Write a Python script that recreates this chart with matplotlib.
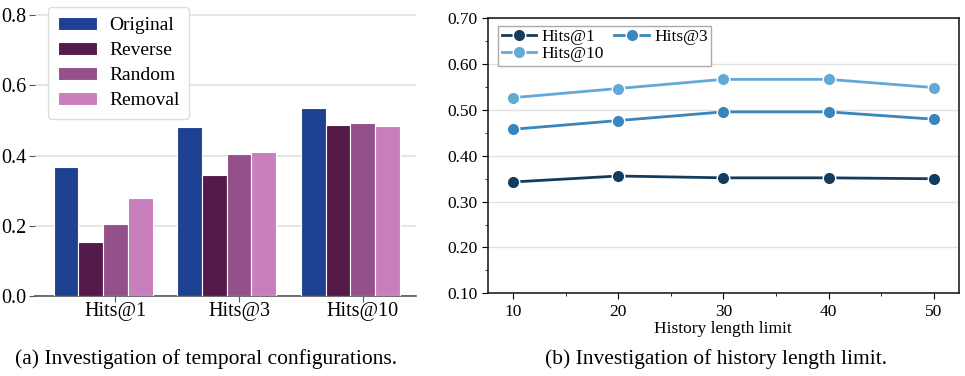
import matplotlib.pyplot as plt
import numpy as np
from matplotlib.ticker import MultipleLocator, FormatStrFormatter

plt.rcParams["font.family"] = ["Liberation Serif", "DejaVu Serif"]

# (a) temporal configurations
metrics = ["Hits@1", "Hits@3", "Hits@10"]
configs = ["Original", "Reverse", "Random", "Removal"]
original = [0.368, 0.480, 0.535]
reverse = [0.153, 0.344, 0.486]
random_order = [0.206, 0.404, 0.493]
removal = [0.280, 0.410, 0.485]
bar_colors = ["#1F4193", "#531A4A", "#94508A", "#C97FBE"]

# (b) history length limit
history = [10, 20, 30, 40, 50]
hits1 = [0.343, 0.356, 0.352, 0.352, 0.350]
hits3 = [0.458, 0.477, 0.496, 0.496, 0.480]
hits10 = [0.527, 0.547, 0.567, 0.567, 0.549]
line_colors = ["#133C5E", "#3A86BC", "#64A8D6"]


def main():
    fig = plt.figure(figsize=(9.65, 3.76), dpi=100)

    # ---- left panel ----
    ax1 = fig.add_axes([0.0363, 0.2128, 0.3948, 0.7742])
    x = np.arange(len(metrics))
    w = 0.2
    series = [original, reverse, random_order, removal]
    for i, (vals, name) in enumerate(zip(series, configs)):
        ax1.bar(x + (i - 1.5) * w, vals, width=w, color=bar_colors[i],
                edgecolor="white", linewidth=0.8, label=name, zorder=3)
    ax1.set_xlim(-0.55, 2.53)
    ax1.set_ylim(0, 0.829)
    ax1.set_yticks([0.0, 0.2, 0.4, 0.6, 0.8])
    ax1.yaxis.set_major_formatter(FormatStrFormatter("%.1f"))
    ax1.set_xticks(x + 0.5 * w)
    ax1.set_xticklabels(metrics)
    ax1.grid(axis="y", color="#e2e2e2", linewidth=1.2, zorder=0)
    for s in ["top", "right", "left"]:
        ax1.spines[s].set_visible(False)
    ax1.spines["bottom"].set_color("#555555")
    ax1.spines["bottom"].set_linewidth(1.2)
    ax1.tick_params(axis="y", length=4, color="#555555", labelsize=14.5, pad=2)
    ax1.tick_params(axis="x", length=4, color="#555555", labelsize=14.5, pad=0)
    ax1.legend(loc="upper left", bbox_to_anchor=(0.0497, 0.981),
               bbox_transform=fig.transFigure, borderaxespad=0,
               fontsize=14, handlelength=2.0, handleheight=0.7,
               labelspacing=0.38, handletextpad=0.65, borderpad=0.5,
               edgecolor="#dddddd", framealpha=1)

    # ---- right panel ----
    ax2 = fig.add_axes([0.5054, 0.22, 0.4884, 0.731])
    handles = []
    for vals, name, c in zip([hits1, hits3, hits10], metrics, line_colors):
        h, = ax2.plot(history, vals, color=c, linewidth=2, marker="o",
                      markersize=9, markeredgecolor="white",
                      markeredgewidth=1, label=name, zorder=3)
        handles.append(h)
    ax2.set_xlim(7.6, 52.4)
    ax2.set_ylim(0.1, 0.7)
    ax2.set_xticks(history)
    ax2.xaxis.set_minor_locator(MultipleLocator(5))
    ax2.yaxis.set_major_locator(MultipleLocator(0.1))
    ax2.yaxis.set_minor_locator(MultipleLocator(0.05))
    ax2.yaxis.set_major_formatter(FormatStrFormatter("%.2f"))
    ax2.grid(axis="y", which="major", color="#e2e2e2", linewidth=1.0, zorder=0)
    for s in ax2.spines.values():
        s.set_linewidth(1.2)
        s.set_color("#222222")
    ax2.tick_params(which="major", length=4, labelsize=12.5, direction="out")
    ax2.tick_params(which="minor", length=2.5, direction="out")
    ax2.set_xlabel("History length limit", fontsize=12.5, labelpad=1)
    # row-wise order: Hits@1, Hits@3 / Hits@10
    order = [0, 2, 1]
    ax2.legend([handles[i] for i in order], [metrics[i] for i in order],
               loc="upper left", bbox_to_anchor=(0.022, 0.973), ncol=2,
               borderaxespad=0, fontsize=12.5, handlelength=2.0,
               columnspacing=0.6, handletextpad=0.3, labelspacing=0.05,
               borderpad=0.2, fancybox=False, edgecolor="#aaaaaa",
               framealpha=1)

    # captions
    fig.text(0.2135, 0.045, "(a) Investigation of temporal configurations.",
             ha="center", va="center", fontsize=15.5)
    fig.text(0.742, 0.045, "(b) Investigation of history length limit.",
             ha="center", va="center", fontsize=15.5)

    fig.savefig("out.png", dpi=100)


if __name__ == "__main__":
    main()
